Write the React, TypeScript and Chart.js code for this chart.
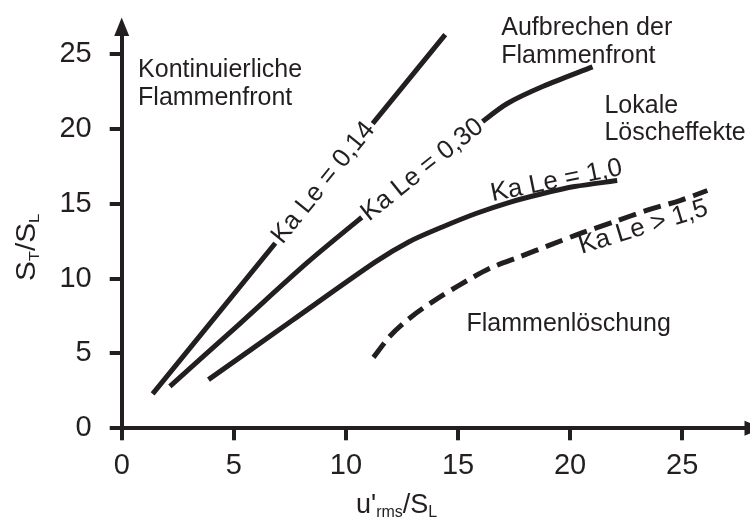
import { useEffect, useRef } from "react";
import { Chart, registerables } from "chart.js";

Chart.register(...registerables);

const INK = "#231f20";
const FONT = '"Liberation Sans", Arial, Helvetica, sans-serif';

// Axis ranges and tick labels
const X_MAX = 27.8;
const Y_MAX = 26.25;
const xTicks = [0, 5, 10, 15, 20, 25];
const yTicks = [0, 5, 10, 15, 20, 25];

// Ka Le = 0,14
const kaLe014X = [1.38, 7.9, 14.43];
const kaLe014Y = [2.3, 14.3, 26.3];

// Ka Le = 0,30
const kaLe030X = [2.15, 5.2, 8.3, 11.0, 13.4, 16.1, 17.2, 18.8, 21.0];
const kaLe030Y = [2.8, 6.9, 11.1, 14.45, 17.35, 20.5, 21.7, 22.85, 24.15];

// Ka Le = 1,0
const kaLe10X = [3.87, 7.6, 11.3, 12.8, 14.3, 15.8, 17.3, 18.75, 20.2, 22.1];
const kaLe10Y = [3.25, 7.2, 11.1, 12.45, 13.45, 14.35, 15.1, 15.67, 16.15, 16.55];

// Ka Le > 1,5 (dashed)
const kaLe15X = [11.23, 11.98, 12.87, 13.91, 15.1, 16.44, 17.78, 19.12, 20.46, 21.95, 23.44, 24.93, 26.12];
const kaLe15Y = [4.74, 6.18, 7.39, 8.5, 9.6, 10.7, 11.48, 12.25, 13.02, 13.79, 14.57, 15.23, 15.89];

// Region texts (anchored in data coordinates: left edge, first baseline)
const regionTexts = [
  { lines: ["Kontinuierliche", "Flammenfront"], x: 0.73, y: 23.46 },
  { lines: ["Aufbrechen der", "Flammenfront"], x: 16.93, y: 26.25 },
  { lines: ["Lokale", "Löscheffekte"], x: 21.53, y: 21.08 },
  { lines: ["Flammenlöschung"], x: 15.38, y: 6.48 },
];

// Curve labels (anchored in data coordinates)
const curveLabels = [
  { text: "Ka Le = 0,14", x: 8.96, y: 16.44, angle: -51.1, onLine: true },
  { text: "Ka Le = 0,30", x: 13.39, y: 17.32, angle: -38.6, onLine: true },
  { text: "Ka Le = 1,0", x: 19.46, y: 16.06, angle: -11.5, onLine: false },
  { text: "Ka Le > 1,5", x: 23.36, y: 12.97, angle: -17, onLine: false },
];

const toPoints = (xs: number[], ys: number[]) => xs.map((x, i) => ({ x, y: ys[i] }));

type Part = { t: string; size: number; dy: number };

function drawRich(ctx: CanvasRenderingContext2D, parts: Part[], x: number, y: number) {
  let cx = x;
  for (const p of parts) {
    ctx.font = `${p.size}px ${FONT}`;
    ctx.fillText(p.t, cx, y + p.dy);
    cx += ctx.measureText(p.t).width;
  }
}

const decorPlugin = {
  id: "decor",
  afterDatasetsDraw(chart: any) {
    const { ctx, chartArea } = chart;
    const xs = chart.scales.x;
    const ys = chart.scales.y;
    ctx.save();
    ctx.fillStyle = INK;

    // Arrow heads
    ctx.beginPath();
    ctx.moveTo(chartArea.left, chartArea.top - 18);
    ctx.lineTo(chartArea.left - 7.5, chartArea.top + 0.5);
    ctx.lineTo(chartArea.left + 7.5, chartArea.top + 0.5);
    ctx.closePath();
    ctx.fill();
    ctx.beginPath();
    ctx.moveTo(chartArea.right + 18, chartArea.bottom);
    ctx.lineTo(chartArea.right - 0.5, chartArea.bottom - 7.5);
    ctx.lineTo(chartArea.right - 0.5, chartArea.bottom + 7.5);
    ctx.closePath();
    ctx.fill();

    // Region texts
    ctx.textAlign = "left";
    ctx.textBaseline = "alphabetic";
    ctx.font = `25px ${FONT}`;
    for (const r of regionTexts) {
      const px = xs.getPixelForValue(r.x);
      const py = ys.getPixelForValue(r.y);
      r.lines.forEach((line, i) => ctx.fillText(line, px, py + i * 27.5));
    }

    // Curve labels
    ctx.font = `26px ${FONT}`;
    for (const c of curveLabels) {
      const px = xs.getPixelForValue(c.x);
      const py = ys.getPixelForValue(c.y);
      ctx.save();
      ctx.translate(px, py);
      ctx.rotate((c.angle * Math.PI) / 180);
      ctx.textAlign = "center";
      const w = ctx.measureText(c.text).width;
      if (c.onLine) {
        ctx.fillStyle = "#ffffff";
        ctx.fillRect(-w / 2 - 3, -8, w + 6, 16);
        ctx.fillStyle = INK;
        ctx.textBaseline = "middle";
        ctx.fillText(c.text, 0, 1);
      } else {
        ctx.textBaseline = "alphabetic";
        ctx.fillText(c.text, 0, 0);
      }
      ctx.restore();
    }

    // Axis titles
    ctx.textAlign = "left";
    ctx.textBaseline = "alphabetic";
    drawRich(
      ctx,
      [
        { t: "u'", size: 27, dy: 0 },
        { t: "rms", size: 16, dy: 4 },
        { t: "/S", size: 27, dy: 0 },
        { t: "L", size: 16, dy: 4 },
      ],
      356,
      513
    );
    ctx.save();
    ctx.translate(34.5, 281);
    ctx.rotate(-Math.PI / 2);
    ctx.scale(1.1, 1);
    drawRich(
      ctx,
      [
        { t: "S", size: 27, dy: 0 },
        { t: "T", size: 15, dy: 4 },
        { t: "/S", size: 27, dy: 0 },
        { t: "L", size: 15, dy: 4 },
      ],
      0,
      0
    );
    ctx.restore();

    ctx.restore();
  },
};

export default function App() {
  const canvasRef = useRef<HTMLCanvasElement | null>(null);

  useEffect(() => {
    const canvas = canvasRef.current;
    if (!canvas) return;
    const lineDs = (data: { x: number; y: number }[], dashed = false) => ({
      data,
      showLine: true,
      borderColor: INK,
      backgroundColor: INK,
      borderWidth: 5,
      borderDash: dashed ? [18, 8] : [],
      borderCapStyle: "butt" as const,
      pointRadius: 0,
      pointHoverRadius: 0,
      cubicInterpolationMode: "default" as const,
      tension: 0.3,
      fill: false,
      clip: false as any,
    });

    const chart = new Chart(canvas, {
      type: "scatter",
      data: {
        datasets: [
          lineDs(toPoints(kaLe014X, kaLe014Y)),
          lineDs(toPoints(kaLe030X, kaLe030Y)),
          lineDs(toPoints(kaLe10X, kaLe10Y)),
          lineDs(toPoints(kaLe15X, kaLe15Y), true),
        ],
      },
      options: {
        animation: false,
        responsive: false,
        devicePixelRatio: 1,
        layout: { padding: { top: 32, right: 5, left: 0, bottom: 0 } },
        plugins: { legend: { display: false }, tooltip: { enabled: false } },
        events: [],
        scales: {
          x: {
            type: "linear",
            min: 0,
            max: X_MAX,
            afterBuildTicks: (s: any) => {
              s.ticks = xTicks.map((v) => ({ value: v }));
            },
            afterFit: (s: any) => {
              s.height = 518 - 428.3;
            },
            grid: { drawOnChartArea: false, drawTicks: true, tickLength: 12, lineWidth: 4, color: INK },
            border: { display: true, width: 4, color: INK },
            ticks: { color: INK, font: { family: FONT, size: 29 }, padding: 8, maxRotation: 0, autoSkip: false },
          },
          y: {
            type: "linear",
            min: 0,
            max: Y_MAX,
            afterBuildTicks: (s: any) => {
              s.ticks = yTicks.map((v) => ({ value: v }));
            },
            afterFit: (s: any) => {
              s.width = 121.7;
            },
            grid: { drawOnChartArea: false, drawTicks: true, tickLength: 12, lineWidth: 4, color: INK },
            border: { display: true, width: 4, color: INK },
            ticks: { color: INK, font: { family: FONT, size: 29 }, padding: 18, autoSkip: false },
          },
        },
      },
      plugins: [decorPlugin],
    });
    return () => chart.destroy();
  }, []);

  return (
    <div style={{ position: "absolute", left: 0, top: 0, width: 750, height: 518, background: "#fff" }}>
      <canvas ref={canvasRef} width={750} height={518} style={{ display: "block" }} />
    </div>
  );
}
